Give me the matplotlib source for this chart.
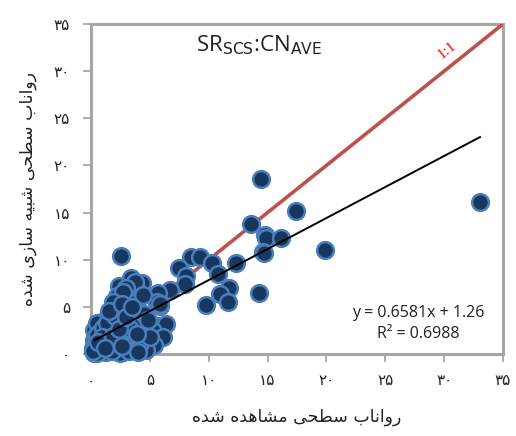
import matplotlib
matplotlib.use("Agg")
import matplotlib.pyplot as plt
import numpy as np

# ---- data (observed, simulated) ----
observed = [33.05, 14.4, 17.4, 13.6, 14.8, 14.9, 16.1, 14.6, 14.7, 19.9, 8.5, 9.25, 10.25, 12.3,
            10.8, 7.5, 8.1, 8.0, 11.75, 10.95, 11.6, 14.25, 9.75, 2.55,
            6.7, 5.7, 5.85, 5.6, 5.9, 4.5, 5.65, 6.4, 5.3, 6.1, 5.35, 3.5, 3.65, 2.7,
            3.4, 4.3, 3.85, 2.4, 2.2, 3.0, 3.3, 2.35, 4.0, 3.4, 1.95, 2.95, 2.25, 1.1,
            0.7, 3.1, 4.1, 1.6, 2.65, 0.25, 1.1, 2.1, 3.35, 3.65, 0.25, 1.25, 2.5, 4.65,
            4.2, 5.05, 2.25, 0.25, 1.5, 1.8, 2.6, 3.5, 2.8, 1.3, 0.6, 0.9, 1.6, 0.4,
            2.0, 3.0, 2.9, 3.8, 4.5, 3.7, 3.0, 2.7, 1.7, 0.5, 1.9, 4.4, 0.15, 0.5,
            1.0, 1.4, 2.3, 2.8, 3.3, 3.9, 4.8, 0.8, 2.0, 0.3, 1.8, 3.2, 4.0,
            0.5, 1.0, 1.4, 2.0, 1.5, 2.6, 0.9, 0.2, 0.6, 1.9, 2.4, 3.0, 3.5, 1.2, 2.6]
simulated = [16.15, 18.6, 15.2, 13.8, 12.6, 12.3, 12.3, 10.85, 10.7, 11.0, 10.25, 10.25, 9.7, 9.7,
             8.5, 9.1, 8.3, 7.4, 7.05, 6.35, 5.55, 6.5, 5.25, 10.4,
             6.75, 6.45, 5.1, 5.5, 5.35, 2.9, 3.0, 3.15, 2.45, 1.8, 0.95, 2.2, 0.8, 0.25,
             8.1, 7.5, 6.85, 7.2, 6.1, 6.1, 5.55, 5.75, 4.65, 5.4, 4.15, 4.85, 5.0, 3.5,
             2.95, 3.25, 2.9, 2.0, 2.0, 1.5, 1.5, 1.15, 1.5, 0.45, 0.1, 0.25, 0.1, 0.45,
             1.15, 1.85, 2.7, 2.55, 3.8, 3.1, 3.6, 4.0, 4.4, 2.4, 0.8, 0.4, 1.0, 1.9,
             0.6, 0.9, 2.6, 3.6, 4.2, 7.6, 7.0, 6.6, 4.6, 3.3, 5.5, 6.3, 0.6, 0.1,
             0.9, 1.7, 1.6, 1.2, 2.6, 2.1, 3.6, 2.3, 2.2, 1.0, 0.3, 0.3, 0.2,
             2.0, 2.8, 3.3, 4.0, 4.6, 5.3, 1.8, 0.3, 1.3, 1.9, 2.6, 3.9, 5.0, 0.6, 0.8]
slope = 0.6581
intercept = 1.26
fit_x = [0.3, 33.05]
tick_values = [0, 5, 10, 15, 20, 25, 30, 35]
tick_labels = ['۰', '۵', '۱۰', '۱۵', '۲۰', '۲۵', '۳۰', '۳۵']
xlabel_text = 'رواناب سطحی مشاهده شده'
ylabel_text = 'رواناب سطحی شبیه سازی شده'
title_text = r'SR$_{\mathrm{SCS}}$:CN$_{\mathrm{AVE}}$'
eq_text = 'y = 0.6581x + 1.26'
r2_text = 'R² = 0.6988'

# ---- minimal Arabic/Persian shaping for display ----
FORMS = {
    'ا': ('\uFE8D', '\uFE8E'), 'ب': ('\uFE8F', '\uFE90', '\uFE91', '\uFE92'),
    'ح': ('\uFEA1', '\uFEA2', '\uFEA3', '\uFEA4'), 'د': ('\uFEA9', '\uFEAA'),
    'ر': ('\uFEAD', '\uFEAE'), 'ز': ('\uFEAF', '\uFEB0'),
    'س': ('\uFEB1', '\uFEB2', '\uFEB3', '\uFEB4'), 'ش': ('\uFEB5', '\uFEB6', '\uFEB7', '\uFEB8'),
    'ط': ('\uFEC1', '\uFEC2', '\uFEC3', '\uFEC4'), 'م': ('\uFEE1', '\uFEE2', '\uFEE3', '\uFEE4'),
    'ن': ('\uFEE5', '\uFEE6', '\uFEE7', '\uFEE8'), 'ه': ('\uFEE9', '\uFEEA', '\uFEEB', '\uFEEC'),
    'و': ('\uFEED', '\uFEEE'), 'ی': ('\uFBFC', '\uFBFD', '\uFBFE', '\uFBFF'),
}

def shape(text):
    out = []
    n = len(text)
    for i, c in enumerate(text):
        if c not in FORMS:
            out.append(c)
            continue
        f = FORMS[c]
        prev = text[i - 1] if i > 0 else None
        nxt = text[i + 1] if i < n - 1 else None
        join_prev = prev in FORMS and len(FORMS[prev]) == 4
        join_next = len(f) == 4 and nxt in FORMS
        if join_prev and join_next:
            out.append(f[3])
        elif join_prev:
            out.append(f[1])
        elif join_next:
            out.append(f[2])
        else:
            out.append(f[0])
    return ''.join(out)[::-1]

plt.rcParams['font.family'] = ['DejaVu Sans']

fig = plt.figure(figsize=(5.16, 4.36), dpi=100)
ax = fig.add_axes([91/516, 82/436, 412/516, 330/436])

gray = '#A6A6A6'
ax.plot([0, 35], [0, 35], color='#C0504D', lw=2.6, zorder=3, solid_capstyle='butt')
ax.scatter(observed, simulated, s=145, facecolor='#17375E', edgecolor='#4A7EBB',
           linewidth=1.8, zorder=4, clip_on=False)
fx = np.array(fit_x)
ax.plot(fx, slope * fx + intercept, color='black', lw=1.4, zorder=5)

ax.set_xlim(0, 35)
ax.set_ylim(0, 35)
ax.set_xticks(tick_values)
ax.set_yticks(tick_values)
ax.set_xticklabels(tick_labels, fontsize=11, color='#222222')
ax.set_yticklabels(tick_labels, fontsize=11, color='#222222')
for s in ax.spines.values():
    s.set_color(gray)
    s.set_linewidth(2.2)
    s.set_zorder(2)
ax.tick_params(axis='both', direction='out', length=6, width=1.3, color=gray, pad=8)
ax.tick_params(axis='y', pad=9)

ax.set_xlabel(shape(xlabel_text), fontsize=12.5, labelpad=14, color='#222222')
ax.set_ylabel(shape(ylabel_text), fontsize=12.5, labelpad=12, color='#222222')

ax.text(0.256, 0.936, title_text, transform=ax.transAxes, fontsize=16,
        family='Open Sans', ha='left', va='center', color='#222222')
ax.text(0.864, 0.921, '1:1', transform=ax.transAxes, fontsize=11, family='Liberation Serif',
        color='red', rotation=38.7, ha='center', va='center')
ax.text(0.795, 0.124, eq_text, transform=ax.transAxes, fontsize=11.5, family='Open Sans',
        ha='center', va='center', color='#222222')
ax.text(0.795, 0.062, r2_text, transform=ax.transAxes, fontsize=11.5, family='Open Sans',
        ha='center', va='center', color='#222222')

fig.savefig('out.png', dpi=100)
